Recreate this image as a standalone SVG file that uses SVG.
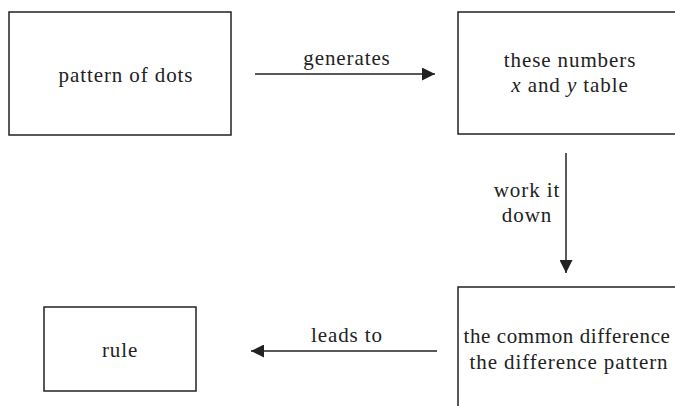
<svg xmlns="http://www.w3.org/2000/svg" width="675" height="406" viewBox="0 0 675 406">
  <style>
    .box { fill: #fff; stroke: #222; stroke-width: 1.5; }
    .edge { fill: none; stroke: #222; stroke-width: 1.5; }
    text { font-size: 21px; fill: #222; text-anchor: middle; letter-spacing: 0.9px; }
    .it { font-style: italic; }
    .tight { letter-spacing: 0.6px; }
  </style>
  <defs>
    <marker id="arrow" viewBox="0 0 10 10" refX="10" refY="5" markerWidth="13" markerHeight="13" markerUnits="userSpaceOnUse" orient="auto">
      <path d="M0,0 L10,5 L0,10 Z" fill="#222"/>
    </marker>
  </defs>
  <rect width="675" height="406" fill="#fff"/>

  <g font-family="'Liberation Serif', 'DejaVu Serif', serif">
  <g id="node-dots">
    <rect class="box" x="9" y="12" width="222" height="123"/>
    <text x="126" y="82">pattern of dots</text>
  </g>

  <g id="node-numbers">
    <rect class="box" x="458" y="12" width="230" height="122"/>
    <text x="570" y="67">these numbers</text>
    <text x="570" y="92"><tspan class="it">x</tspan> and <tspan class="it">y</tspan> table</text>
  </g>

  <g id="node-difference">
    <rect class="box" x="458" y="287" width="230" height="130"/>
    <text class="tight" x="567" y="343">the common difference</text>
    <text x="569" y="369">the difference pattern</text>
  </g>

  <g id="node-rule">
    <rect class="box" x="44" y="307" width="152" height="84"/>
    <text x="120" y="357">rule</text>
  </g>

  <g id="connectors">
    <line class="edge" x1="255" y1="74" x2="435" y2="74" marker-end="url(#arrow)"/>
    <text x="347" y="65">generates</text>
    <line class="edge" x1="566" y1="153" x2="566" y2="273" marker-end="url(#arrow)"/>
    <text x="527" y="197">work it</text>
    <text x="527" y="222">down</text>
    <line class="edge" x1="437" y1="351" x2="251" y2="351" marker-end="url(#arrow)"/>
    <text x="347" y="342">leads to</text>
  </g>
  </g>
</svg>
